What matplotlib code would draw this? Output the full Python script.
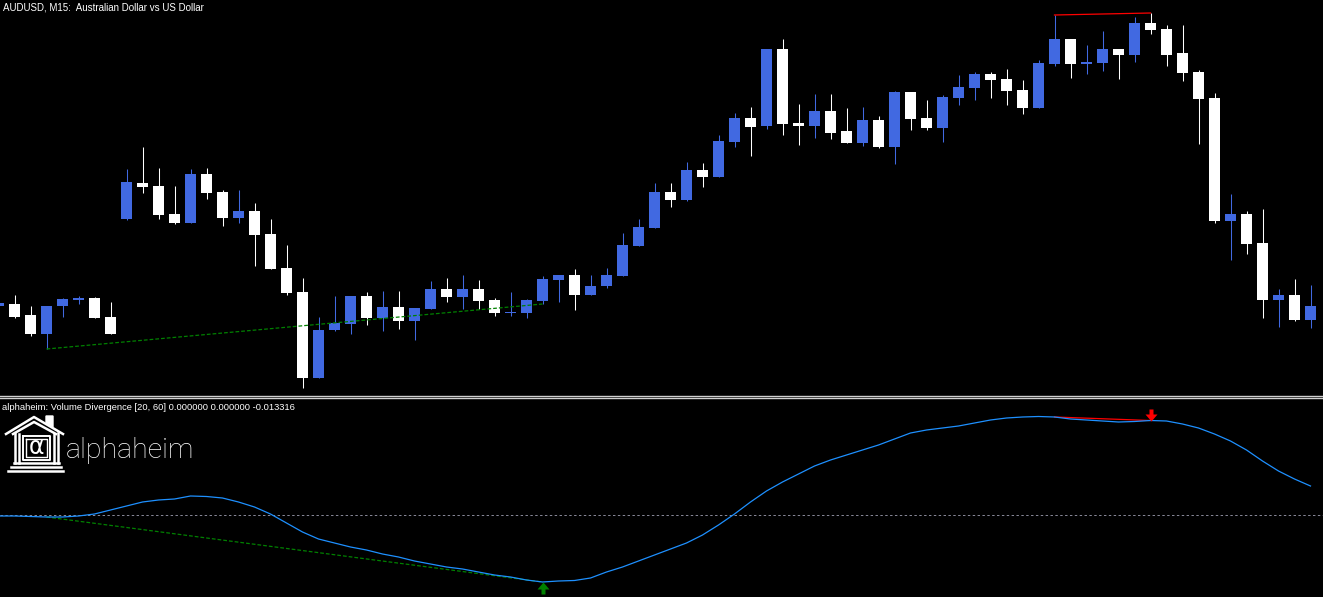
import matplotlib
matplotlib.use("Agg")
import matplotlib.pyplot as plt
import numpy as np
from matplotlib.path import Path

# bar index (first bar is cut by the left edge)
bars = np.arange(-1, 82)

opens = [0.77094, 0.77096, 0.77085, 0.77066, 0.77094, 0.77100, 0.77102, 0.77083,
         0.77181, 0.77217, 0.77214, 0.77186, 0.77177, 0.77226, 0.77208, 0.77182,
         0.77189, 0.77166, 0.77132, 0.77108, 0.77022, 0.77070, 0.77076, 0.77104,
         0.77082, 0.77093, 0.77079, 0.77091, 0.77111, 0.77103, 0.77111, 0.77100,
         0.77087, 0.77087, 0.77099, 0.77120, 0.77125, 0.77105, 0.77114, 0.77124,
         0.77154, 0.77172, 0.77208, 0.77200, 0.77230, 0.77223, 0.77258, 0.77282,
         0.77274, 0.77351, 0.77277, 0.77274, 0.77289, 0.77269, 0.77257, 0.77280,
         0.77253, 0.77308, 0.77282, 0.77272, 0.77302, 0.77312, 0.77326, 0.77321,
         0.77310, 0.77292, 0.77336, 0.77361, 0.77336, 0.77337, 0.77351, 0.77345,
         0.77377, 0.77371, 0.77347, 0.77328, 0.77302, 0.77179, 0.77186, 0.77157,
         0.77100, 0.77105, 0.77080]
highs = [0.77101, 0.77105, 0.77094, 0.77094, 0.77102, 0.77104, 0.77103, 0.77098,
         0.77231, 0.77253, 0.77232, 0.77214, 0.77231, 0.77232, 0.77210, 0.77210,
         0.77197, 0.77181, 0.77155, 0.77122, 0.77083, 0.77104, 0.77104, 0.77108,
         0.77109, 0.77109, 0.77092, 0.77119, 0.77122, 0.77125, 0.77120, 0.77102,
         0.77108, 0.77101, 0.77124, 0.77125, 0.77131, 0.77125, 0.77132, 0.77167,
         0.77181, 0.77217, 0.77217, 0.77238, 0.77237, 0.77265, 0.77287, 0.77293,
         0.77351, 0.77361, 0.77296, 0.77306, 0.77306, 0.77292, 0.77293, 0.77284,
         0.77309, 0.77308, 0.77300, 0.77305, 0.77325, 0.77328, 0.77328, 0.77331,
         0.77320, 0.77340, 0.77385, 0.77361, 0.77355, 0.77369, 0.77351, 0.77383,
         0.77387, 0.77375, 0.77375, 0.77330, 0.77307, 0.77206, 0.77189, 0.77191,
         0.77111, 0.77121, 0.77115]
lows = [0.77092, 0.77082, 0.77064, 0.77051, 0.77083, 0.77096, 0.77082, 0.77066,
        0.77180, 0.77207, 0.77181, 0.77176, 0.77177, 0.77201, 0.77174, 0.77177,
        0.77134, 0.77131, 0.77105, 0.77012, 0.77022, 0.77069, 0.77066, 0.77075,
        0.77069, 0.77071, 0.77060, 0.77091, 0.77098, 0.77091, 0.77091, 0.77084,
        0.77084, 0.77082, 0.77096, 0.77098, 0.77090, 0.77105, 0.77112, 0.77124,
        0.77154, 0.77172, 0.77193, 0.77199, 0.77213, 0.77223, 0.77253, 0.77244,
        0.77271, 0.77265, 0.77255, 0.77262, 0.77261, 0.77257, 0.77254, 0.77252,
        0.77236, 0.77270, 0.77270, 0.77258, 0.77295, 0.77300, 0.77302, 0.77295,
        0.77286, 0.77292, 0.77334, 0.77322, 0.77326, 0.77329, 0.77321, 0.77338,
        0.77366, 0.77334, 0.77319, 0.77256, 0.77177, 0.77140, 0.77146, 0.77082,
        0.77073, 0.77079, 0.77072]
closes = [0.77097, 0.77083, 0.77066, 0.77094, 0.77101, 0.77102, 0.77082, 0.77066,
          0.77218, 0.77213, 0.77185, 0.77177, 0.77226, 0.77207, 0.77182, 0.77189,
          0.77165, 0.77131, 0.77107, 0.77022, 0.77070, 0.77077, 0.77104, 0.77082,
          0.77093, 0.77079, 0.77092, 0.77111, 0.77103, 0.77111, 0.77099, 0.77087,
          0.77088, 0.77100, 0.77121, 0.77125, 0.77105, 0.77114, 0.77125, 0.77155,
          0.77173, 0.77208, 0.77200, 0.77230, 0.77223, 0.77259, 0.77282, 0.77273,
          0.77351, 0.77276, 0.77274, 0.77289, 0.77267, 0.77257, 0.77280, 0.77253,
          0.77308, 0.77281, 0.77272, 0.77303, 0.77313, 0.77326, 0.77320, 0.77309,
          0.77292, 0.77337, 0.77361, 0.77336, 0.77338, 0.77351, 0.77345, 0.77377,
          0.77370, 0.77345, 0.77327, 0.77301, 0.77179, 0.77186, 0.77156, 0.77100,
          0.77105, 0.77080, 0.77094]

# Volume Divergence indicator line
vdiv = [-0.001, -0.001, -0.0015, -0.002, -0.002, -0.001, 0.001, 0.005,
        0.009, 0.013, 0.015, 0.016, 0.019, 0.0185, 0.017, 0.013,
        0.008, 0.001, -0.008, -0.017, -0.024, -0.028, -0.032, -0.035,
        -0.039, -0.042, -0.046, -0.049, -0.052, -0.054, -0.057, -0.060,
        -0.062, -0.065, -0.067, -0.066, -0.0655, -0.063, -0.057, -0.052,
        -0.046, -0.040, -0.034, -0.028, -0.020, -0.010, 0.001, 0.013,
        0.024, 0.033, 0.041, 0.049, 0.055, 0.060, 0.065, 0.070,
        0.076, 0.082, 0.085, 0.087, 0.089, 0.092, 0.095, 0.097,
        0.098, 0.0985, 0.098, 0.096, 0.095, 0.094, 0.093, 0.0935,
        0.0945, 0.094, 0.091, 0.087, 0.081, 0.074, 0.065, 0.054,
        0.044, 0.036, 0.029]
level = 0.0

# divergences: (start bar, end bar)
bull_div = (2, 33)
bear_div = (65, 71)

title = "AUDUSD, M15:  Australian Dollar vs US Dollar"
ind_label = "alphaheim: Volume Divergence [20, 60] 0.000000 0.000000 -0.013316"

BLUE = "#4169E1"
WHITE = "#FFFFFF"
LINE = "#1E90FF"

W, H = 1323, 597
fig = plt.figure(figsize=(W / 100, H / 100), dpi=100, facecolor="black")

xlim = (-14.5 / 16, (W - 14.5) / 16)
ax = fig.add_axes([0, (H - 395) / H, 1, 395 / H], facecolor="black")
ind = fig.add_axes([0, 0, 1, (H - 399) / H], facecolor="black")
for a in (ax, ind):
    a.set_xlim(*xlim)
    a.set_axis_off()
ax.set_ylim(0.77005, 0.77400)
ind.set_ylim(-0.082, 0.116)

o = np.array(opens)
c = np.array(closes)
hi = np.array(highs)
lo = np.array(lows)
up = c >= o
cols = np.where(up, BLUE, WHITE)

# candles
ax.vlines(bars, lo, hi, colors=cols, lw=0.75)
body = np.maximum(np.abs(c - o), 0.00001)
ax.bar(bars, body, bottom=np.minimum(o, c), width=0.69, color=cols, linewidth=0)

# divergence lines on price
i0, i1 = bull_div[0] + 1, bull_div[1] + 1
ax.plot([bars[i0], bars[i1]], [lo[i0], lo[i1]], color="#008000", lw=0.9,
        dashes=(3, 1.6))
j0, j1 = bear_div[0] + 1, bear_div[1] + 1
ax.plot([bars[j0], bars[j1]], [hi[j0], hi[j1]], color="red", lw=0.9)

# indicator
v = np.array(vdiv)
ind.axhline(level, color="#8a8a9a", lw=0.7, dashes=(2.5, 2.5))
ind.plot([bars[i0], bars[i1]], [v[i0], v[i1]], color="#008000", lw=0.9,
         dashes=(3, 1.6))
ind.plot([bars[j0], bars[j1]], [v[j0], v[j1]], color="red", lw=0.9)
ind.plot(bars, v, color=LINE, lw=0.9)

down_arrow = Path([(0, 0), (-6, 7), (-2, 7), (-2, 12), (2, 12), (2, 7), (6, 7), (0, 0)],
                  [Path.MOVETO] + [Path.LINETO] * 6 + [Path.CLOSEPOLY])
up_arrow = Path([(0, 0), (-6, -7), (-2, -7), (-2, -12), (2, -12), (2, -7), (6, -7), (0, 0)],
                [Path.MOVETO] + [Path.LINETO] * 6 + [Path.CLOSEPOLY])
ind.plot([bars[j1]], [v[j1]], marker=down_arrow, markersize=17.3, color="red",
         markeredgewidth=0, linestyle="none")
ind.plot([bars[i1]], [v[i1]], marker=up_arrow, markersize=17.3, color="#008000",
         markeredgewidth=0, linestyle="none")

# overlay in pixel coordinates for texts, separator and logo
ov = fig.add_axes([0, 0, 1, 1], facecolor="none")
ov.set_xlim(0, W)
ov.set_ylim(H, 0)
ov.set_axis_off()
ov.axhline(395.5, color="#d0d0d0", lw=1.0)
ov.axhline(398.0, color="#d0d0d0", lw=1.0)

ov.text(3, 7, title, color="white", fontsize=7, family="Liberation Sans",
        va="center", ha="left")
ov.text(2, 408, ind_label, color="white", fontsize=6.75, family="Liberation Sans",
        va="center", ha="left")

# logo: house with alpha
lw = 1.8
ov.plot([6, 34, 63], [434, 417, 434], color="white", lw=lw)
ov.plot([13, 34, 56], [434, 422, 434], color="white", lw=lw)
ov.fill([46, 53, 53, 46], [416, 416, 427, 423], color="white")
ov.plot([15, 15], [433, 463], color="white", lw=lw)
ov.plot([19, 19], [434, 463], color="white", lw=lw)
ov.plot([54, 54], [434, 463], color="white", lw=lw)
ov.plot([58, 58], [433, 463], color="white", lw=lw)
ov.plot([23, 50, 50, 23, 23], [436, 436, 460, 460, 436], color="white", lw=1.4)
ov.plot([26, 47, 47, 26, 26], [439, 439, 457, 457, 439], color="white", lw=1.0)
ov.text(36.5, 447, "\u03b1", color="white", fontsize=17, family="DejaVu Sans",
        ha="center", va="center")
ov.plot([14, 59], [463, 463], color="white", lw=lw)
ov.plot([11, 61], [467, 467], color="white", lw=lw)
ov.plot([8, 63], [471, 471], color="white", lw=lw)
ov.text(66, 451, "alphaheim", color="white", fontsize=20.5, family="Roboto",
        fontweight="light", ha="left", va="center")

fig.savefig("out.png", dpi=100, facecolor="black")
